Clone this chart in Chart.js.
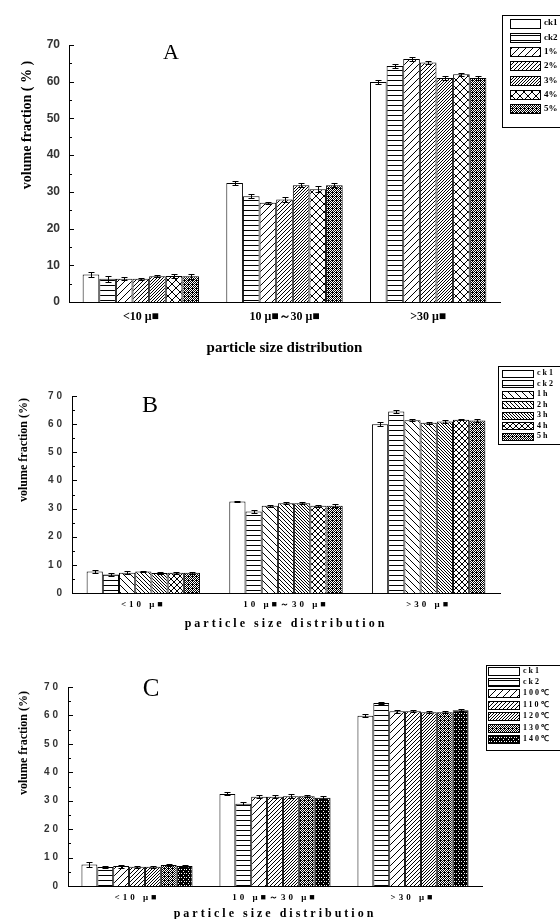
<!DOCTYPE html>
<html>
<head>
<meta charset="utf-8">
<script src="https://cdn.jsdelivr.net/npm/chart.js@4.4.1/dist/chart.umd.min.js"></script>
<style>
html, body { margin: 0; padding: 0; background: #fff; overflow: hidden; width: 560px; height: 919px; }
.panel { position: absolute; left: 0; width: 560px; }
</style>
</head>
<body>
<div class="panel" style="top:0;height:360px"><canvas id="chartA"></canvas></div>
<div class="panel" style="top:360px;height:280px"><canvas id="chartB"></canvas></div>
<div class="panel" style="top:640px;height:290px"><canvas id="chartC"></canvas></div>
<script>
// categories on the x axis (the "m" shows as a box in the source figure)
const categories = ['<10 μ■', '10 μ■～30 μ■', '>30 μ■'];

// panel A
const seriesA = ['ck1', 'ck2', '1%', '2%', '3%', '4%', '5%'];
const valuesA = [
    [7.5, 32.4, 59.9],
    [6.3, 28.8, 64.3],
    [6.3, 27.0, 66.2],
    [6.3, 27.9, 65.2],
    [7.0, 31.8, 61.0],
    [7.1, 30.7, 62.0],
    [7.0, 31.8, 61.0]
];
const errorsA = [
    [0.6, 0.5, 0.6],
    [0.8, 0.6, 0.5],
    [0.4, 0.3, 0.5],
    [0.3, 0.6, 0.5],
    [0.3, 0.5, 0.5],
    [0.6, 0.8, 0.5],
    [0.7, 0.6, 0.5]
];

// panel B
const seriesB = ['ck1', 'ck2', '1h', '2h', '3h', '4h', '5h'];
const valuesB = [
    [7.6, 32.5, 60.0],
    [6.6, 29.0, 64.5],
    [7.2, 31.0, 61.4],
    [7.6, 31.9, 60.5],
    [7.1, 31.9, 60.9],
    [7.2, 31.0, 61.6],
    [7.2, 31.0, 61.3]
];
const errorsB = [
    [0.4, 0.3, 0.6],
    [0.5, 0.4, 0.7],
    [0.5, 0.4, 0.4],
    [0.3, 0.4, 0.3],
    [0.2, 0.3, 0.5],
    [0.3, 0.3, 0.3],
    [0.3, 0.6, 0.6]
];

// panel C
const seriesC = ['ck1', 'ck2', '100℃', '110℃', '120℃', '130℃', '140℃'];
const valuesC = [
    [7.6, 32.4, 59.9],
    [6.7, 28.9, 64.4],
    [7.0, 31.4, 61.5],
    [6.8, 31.4, 61.5],
    [6.8, 31.6, 61.1],
    [7.4, 31.6, 61.1],
    [7.0, 31.0, 61.8]
];
const errorsC = [
    [0.8, 0.5, 0.5],
    [0.5, 0.5, 0.3],
    [0.5, 0.6, 0.5],
    [0.3, 0.5, 0.3],
    [0.3, 0.6, 0.3],
    [0.3, 0.4, 0.3],
    [0.3, 0.6, 0.3]
];

const yTicks = [0, 10, 20, 30, 40, 50, 60, 70];

// build a small black/white tile pattern pixel by pixel
function tile(w, h, on) {
    const c = document.createElement('canvas');
    c.width = w; c.height = h;
    const g = c.getContext('2d');
    g.fillStyle = '#fff';
    g.fillRect(0, 0, w, h);
    g.fillStyle = '#000';
    for (let y = 0; y < h; y++) {
        for (let x = 0; x < w; x++) {
            if (on(x, y)) g.fillRect(x, y, 1, 1);
        }
    }
    return g.createPattern(c, 'repeat');
}

const hatch = {
    blank: '#fff',
    horiz: tile(5, 5, (x, y) => y === 0),
    fwd7: tile(7, 7, (x, y) => x + y === 6),
    fwd4: tile(4, 4, (x, y) => x + y === 3),
    fwd3: tile(3, 3, (x, y) => (x + y) % 3 === 2),
    back7: tile(7, 7, (x, y) => x === y),
    back4: tile(4, 4, (x, y) => x === y),
    back3: tile(3, 3, (x, y) => x === y),
    cross8: tile(8, 8, (x, y) => x === y || x + y === 7),
    cross6: tile(6, 6, (x, y) => x === y || x + y === 5),
    checker: tile(4, 4, (x, y) => (x + y) % 2 === 1 || (x === 0 && y === 0)),
    dark: tile(5, 4, (x, y) => !((x === 1 && y === 1) || (x === 3 && y === 3) || (x === 4 && y === 1)))
};

// error bars on every bar
const errorBars = {
    id: 'errorBars',
    afterDatasetsDraw(chart, args, opts) {
        const ctx = chart.ctx;
        const yScale = chart.scales.y;
        ctx.save();
        ctx.strokeStyle = '#000';
        ctx.lineWidth = 1;
        chart.data.datasets.forEach((ds, i) => {
            chart.getDatasetMeta(i).data.forEach((bar, j) => {
                const v = ds.data[j], e = ds.errors[j];
                const x = Math.round(bar.x) + 0.5;
                const top = Math.round(yScale.getPixelForValue(v + e)) + 0.5;
                const bot = Math.round(yScale.getPixelForValue(v - e)) + 0.5;
                ctx.beginPath();
                ctx.moveTo(x, top); ctx.lineTo(x, bot);
                ctx.moveTo(x - opts.cap, top); ctx.lineTo(x + opts.cap, top);
                ctx.moveTo(x - opts.cap, bot); ctx.lineTo(x + opts.cap, bot);
                ctx.stroke();
            });
        });
        ctx.restore();
    }
};

// tick marks pointing into the plot, with minor ticks halfway
const innerTicks = {
    id: 'innerTicks',
    afterDraw(chart, args, opts) {
        const ctx = chart.ctx;
        const yScale = chart.scales.y;
        const left = chart.chartArea.left;
        ctx.save();
        ctx.strokeStyle = '#000';
        ctx.lineWidth = 1;
        ctx.beginPath();
        for (let v = yScale.min; v <= yScale.max; v += 5) {
            const p = Math.round(yScale.getPixelForValue(v)) + 0.5;
            const len = v % 10 === 0 ? opts.major : opts.minor;
            ctx.moveTo(left, p);
            ctx.lineTo(left + len, p);
        }
        ctx.stroke();
        ctx.restore();
    }
};

// boxed legend with hatched swatches
const boxLegend = {
    id: 'boxLegend',
    afterDraw(chart, args, o) {
        const ctx = chart.ctx;
        ctx.save();
        ctx.letterSpacing = o.spacing;
        ctx.strokeStyle = '#000';
        ctx.lineWidth = 1;
        ctx.strokeRect(o.x + 0.5, o.y + 0.5, o.w, o.h);
        chart.data.datasets.forEach((ds, i) => {
            const cy = o.y + o.first + i * o.row;
            const sy = Math.round(cy - o.sh / 2);
            ctx.fillStyle = ds.backgroundColor;
            ctx.fillRect(o.sx, sy, o.sw, o.sh);
            ctx.strokeRect(o.sx + 0.5, sy + 0.5, o.sw, o.sh);
            ctx.fillStyle = '#000';
            ctx.font = o.font;
            ctx.textBaseline = 'middle';
            ctx.textAlign = 'left';
            ctx.fillText(ds.label, o.tx, cy);
        });
        ctx.restore();
    }
};

// panel letter and rotated y title
const panelText = {
    id: 'panelText',
    afterDraw(chart, args, o) {
        const ctx = chart.ctx;
        ctx.save();
        ctx.letterSpacing = '0px';
        ctx.fillStyle = '#000';
        ctx.textAlign = 'center';
        ctx.textBaseline = 'alphabetic';
        ctx.font = o.letterFont;
        ctx.fillText(o.letter, o.lx, o.ly);
        ctx.translate(o.tx, o.ty);
        ctx.rotate(-Math.PI / 2);
        ctx.font = o.titleFont;
        ctx.textBaseline = 'middle';
        ctx.fillText(o.title, 0, 0);
        ctx.restore();
    }
};

// B and C use widely spaced lettering for ticks and axis title
const spacing = {
    id: 'spacing',
    beforeUpdate(chart, args, o) { chart.ctx.letterSpacing = o.px; },
    beforeDraw(chart, args, o) { chart.ctx.letterSpacing = o.px; }
};

function makeChart(id, p) {
    const datasets = p.series.map((name, i) => ({
        label: name,
        data: p.values[i],
        errors: p.errors[i],
        backgroundColor: p.fills[i],
        borderColor: '#000',
        borderWidth: 1,
        barPercentage: 1,
        categoryPercentage: p.catPct
    }));

    return new Chart(document.getElementById(id), {
        type: 'bar',
        data: { labels: categories, datasets: datasets },
        plugins: [errorBars, innerTicks, boxLegend, panelText, spacing],
        options: {
            responsive: true,
            maintainAspectRatio: false,
            animation: false,
            layout: { padding: { top: p.top, right: p.right, bottom: 0, left: 0 } },
            plugins: {
                legend: { display: false },
                tooltip: { enabled: false },
                errorBars: { cap: 3 },
                innerTicks: { major: 5, minor: 3 },
                boxLegend: p.legend,
                panelText: p.text,
                spacing: { px: p.letterSpacing }
            },
            scales: {
                x: {
                    grid: { display: false, drawTicks: false },
                    border: { display: true, color: '#000', width: 1 },
                    ticks: { font: p.xTickFont, color: '#000', padding: p.xTickPad, maxRotation: 0, autoSkip: false },
                    title: {
                        display: true,
                        text: 'particle size distribution',
                        font: p.xTitleFont,
                        color: '#000',
                        padding: { top: 0, bottom: p.xTitlePad }
                    },
                    afterFit: s => { s.height = p.xHeight; }
                },
                y: {
                    min: 0,
                    max: 70,
                    afterBuildTicks: s => { s.ticks = yTicks.map(v => ({ value: v })); },
                    grid: { display: false, drawTicks: false },
                    border: { display: true, color: '#000', width: 1 },
                    ticks: { font: p.yTickFont, color: '#333', padding: p.yTickPad },
                    afterFit: s => { s.width = p.yWidth; }
                }
            }
        }
    });
}

makeChart('chartA', {
    series: seriesA, values: valuesA, errors: errorsA,
    fills: [hatch.blank, hatch.horiz, hatch.fwd7, hatch.fwd4, hatch.fwd3, hatch.cross8, hatch.checker],
    catPct: 0.81,
    top: 45, right: 60, yWidth: 69, xHeight: 58,
    xTickFont: { family: '"Liberation Serif", serif', size: 12, weight: 'bold' },
    xTickPad: 8,
    xTitleFont: { family: '"Liberation Serif", serif', size: 15, weight: 'bold' },
    xTitlePad: 3,
    yTickFont: { family: '"Liberation Sans", Arial, sans-serif', size: 12, weight: 'bold' },
    yTickPad: 9,
    letterSpacing: '0px',
    legend: { x: 502, y: 15, w: 60, h: 112, first: 8, row: 14.3, sx: 510, sw: 30, sh: 9, tx: 544,
        font: 'bold 9px "Liberation Serif", serif', spacing: '0px' },
    text: { letter: 'A', lx: 171, ly: 59, letterFont: '22px "Liberation Serif", serif',
        title: 'volume fraction ( % )', tx: 27, ty: 125, titleFont: 'bold 14px "Liberation Serif", serif' }
});

makeChart('chartB', {
    series: seriesB, values: valuesB, errors: errorsB,
    fills: [hatch.blank, hatch.horiz, hatch.back7, hatch.back4, hatch.back3, hatch.cross6, hatch.checker],
    catPct: 0.795,
    top: 36, right: 60, yWidth: 72, xHeight: 47,
    xTickFont: { family: '"Liberation Serif", serif', size: 9, weight: 'bold' },
    xTickPad: 6,
    xTitleFont: { family: '"Liberation Serif", serif', size: 12, weight: 'bold' },
    xTitlePad: 9,
    yTickFont: { family: '"Liberation Sans", Arial, sans-serif', size: 10, weight: 'bold' },
    yTickPad: 7,
    letterSpacing: '3px',
    legend: { x: 498, y: 6, w: 64, h: 78, first: 7, row: 10.5, sx: 502, sw: 31, sh: 7, tx: 537,
        font: 'bold 8px "Liberation Serif", serif', spacing: '2px' },
    text: { letter: 'B', lx: 150, ly: 52, letterFont: '24px "Liberation Serif", serif',
        title: 'volume fraction (%)', tx: 24, ty: 90, titleFont: 'bold 12px "Liberation Serif", serif' }
});

makeChart('chartC', {
    series: seriesC, values: valuesC, errors: errorsC,
    fills: [hatch.blank, hatch.horiz, hatch.fwd7, hatch.fwd4, hatch.fwd3, hatch.checker, hatch.dark],
    catPct: 0.805,
    top: 47, right: 78, yWidth: 68, xHeight: 44,
    xTickFont: { family: '"Liberation Serif", serif', size: 9, weight: 'bold' },
    xTickPad: 6,
    xTitleFont: { family: '"Liberation Serif", serif', size: 12, weight: 'bold' },
    xTitlePad: 9,
    yTickFont: { family: '"Liberation Sans", Arial, sans-serif', size: 10, weight: 'bold' },
    yTickPad: 7,
    letterSpacing: '3px',
    legend: { x: 486, y: 25, w: 76, h: 85, first: 5.5, row: 11.4, sx: 488, sw: 31, sh: 8, tx: 523,
        font: 'bold 8px "Liberation Serif", serif', spacing: '2px' },
    text: { letter: 'C', lx: 151, ly: 56, letterFont: '25px "Liberation Serif", serif',
        title: 'volume fraction (%)', tx: 24, ty: 103, titleFont: 'bold 12px "Liberation Serif", serif' }
});
</script>
</body>
</html>
